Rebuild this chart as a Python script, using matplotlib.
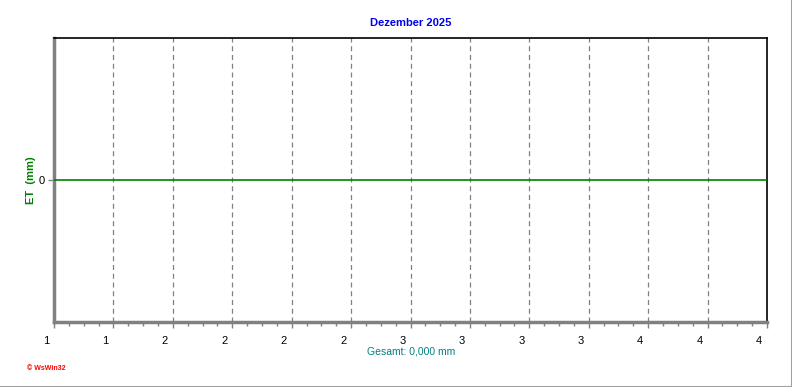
import matplotlib.pyplot as plt
import matplotlib.transforms as mtransforms
from matplotlib.ticker import MultipleLocator
import numpy as np

# data
x_pos = list(range(13))
x_labels = ['1', '1', '2', '2', '2', '2', '3', '3', '3', '3', '4', '4', '4']
et_x = [0, 12]
et_values = [0.0, 0.0]
title = 'Dezember 2025'
total_text = 'Gesamt: 0,000 mm'

fig = plt.figure(figsize=(7.92, 3.87), dpi=100)
ax = fig.add_axes([54 / 792, 1 - 322 / 387, 713 / 792, 284 / 387])

ax.plot(et_x, et_values, color='#008000', lw=1.2, zorder=3)
ax.set_xlim(0, 12)
ax.set_ylim(-1, 1)

# grid
for xv in x_pos[1:-1]:
    ax.axvline(xv, color='#808080', lw=0.9, ls=(0, (4, 3)), zorder=1)

ax.set_xticks(x_pos)
ax.set_xticklabels(x_labels, fontsize=8, fontfamily='Liberation Sans')
ax.xaxis.set_minor_locator(MultipleLocator(0.25))
ax.tick_params(axis='x', which='major', length=4, width=1, color='#808080', pad=6)
ax.tick_params(axis='x', which='minor', length=3, width=1, color='#808080')
offset = mtransforms.ScaledTranslation(-8 / 100, 0, fig.dpi_scale_trans)
for lab in ax.get_xticklabels():
    lab.set_transform(lab.get_transform() + offset)

ax.set_yticks([0])
ax.set_yticklabels(['0'], fontsize=8, fontfamily='Liberation Sans')
ax.tick_params(axis='y', length=4, width=1, color='#808080', pad=3)

for side in ['left', 'bottom']:
    ax.spines[side].set_color('#808080')
    ax.spines[side].set_linewidth(2.5)
for side in ['top', 'right']:
    ax.spines[side].set_color('black')
    ax.spines[side].set_linewidth(1.2)

fig.text(411 / 792, 1 - 23 / 387, title, color='#0000ee', fontsize=8,
         fontweight='bold', ha='center', va='center', fontfamily='Liberation Sans')
fig.text(31 / 792, 1 - 180 / 387, 'ET  (mm)', color='#008000', fontsize=8,
         fontweight='bold', rotation=90, ha='center', va='center', fontfamily='Liberation Sans')
fig.text(411 / 792, 1 - 351 / 387, total_text, color='#008080', fontsize=7.5,
         ha='center', va='center', fontfamily='Liberation Sans')
fig.text(27 / 792, 1 - 368 / 387, '© WsWin32', color='#ff0000', fontsize=5,
         fontweight='bold', ha='left', va='center', fontfamily='Liberation Sans')

# window frame lines
fig.add_artist(plt.Line2D([0, 1], [0.5 / 387, 0.5 / 387], color='#a0a0a0', lw=1.5, transform=fig.transFigure))
fig.add_artist(plt.Line2D([1 - 0.5 / 792, 1 - 0.5 / 792], [0, 1], color='#a0a0a0', lw=1.5, transform=fig.transFigure))

fig.savefig('out.png', dpi=100)
